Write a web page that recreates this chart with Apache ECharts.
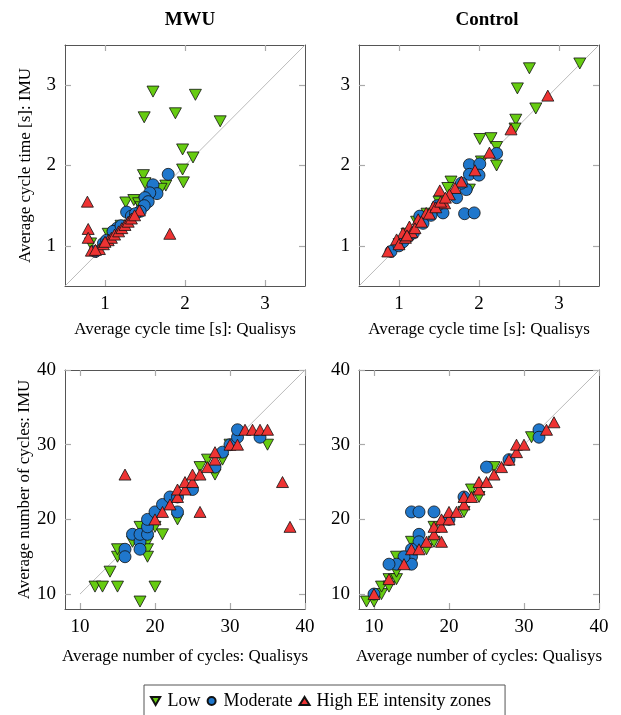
<!DOCTYPE html>
<html>
<head>
<meta charset="utf-8">
<script src="https://cdn.jsdelivr.net/npm/echarts@6/dist/echarts.min.js"></script>
<style>
  html, body { margin: 0; padding: 0; background: #fff; }
  #chart { width: 621px; height: 715px; }
</style>
</head>
<body>
<div id="chart"></div>
<script>
// values: [qualisys, imu]
var mwuTimeLow = [[1.60,2.92],[2.13,2.88],[1.49,2.60],[1.88,2.65],[2.44,2.55],[1.97,2.20],[2.10,2.10],[1.97,1.95],[1.98,1.79],
  [1.48,1.88],[1.50,1.78],[1.76,1.75],[1.70,1.71],[1.26,1.54],[1.36,1.57],[1.42,1.53],[1.04,1.15],[0.82,1.03],[0.89,0.92],
  [1.10,1.12],[1.20,1.25],[1.30,1.35],[1.45,1.48],[1.58,1.62]]
var mwuTimeMod = [[1.79,1.89],[1.60,1.76],[1.65,1.65],[1.56,1.66],[1.50,1.60],[1.54,1.55],[1.49,1.50],[1.44,1.43],[1.27,1.42],
  [1.33,1.37],[1.15,1.22],[1.10,1.18],[0.88,0.93],[0.98,1.03],[1.02,1.07],[1.20,1.25],[1.38,1.40]]
var mwuTimeHigh = [[0.78,1.55],[0.79,1.21],[0.79,1.10],[1.81,1.15],[1.43,1.44],[0.83,0.94],[0.93,0.96],[0.98,1.02],[1.04,1.07],
  [1.08,1.10],[1.12,1.14],[1.17,1.18],[1.21,1.22],[1.25,1.26],[1.29,1.30],[1.33,1.34],[1.37,1.38],[0.88,0.95],[1.00,1.05]]

var ctrlTimeLow = [[3.26,3.27],[2.63,3.21],[2.48,2.96],[2.71,2.71],[2.46,2.57],[2.45,2.46],[2.01,2.33],[2.15,2.34],[2.22,2.23],
  [2.22,2.00],[2.03,2.05],[1.65,1.80],[1.61,1.72],[1.88,1.70],[1.22,1.30],[1.10,1.15],[1.35,1.40],[1.50,1.55],[1.00,1.02]]
var ctrlTimeMod = [[2.22,2.15],[1.88,2.01],[2.01,2.02],[1.88,1.89],[2.00,1.88],[1.84,1.70],[1.72,1.60],[1.55,1.41],[1.82,1.40],
  [1.94,1.41],[0.90,0.93],[1.26,1.37],[1.00,1.00],[1.05,1.05],[1.12,1.12],[1.18,1.16],[1.30,1.28],[1.40,1.38],[1.48,1.50],[1.78,1.78]]
var ctrlTimeHigh = [[2.86,2.87],[2.40,2.45],[2.13,2.16],[1.95,1.94],[1.78,1.80],[1.70,1.72],[1.51,1.69],[1.63,1.64],[1.57,1.53],
  [1.43,1.49],[1.34,1.41],[1.24,1.33],[1.13,1.24],[1.05,1.16],[0.97,1.08],[0.86,0.93],[1.00,1.02],[1.08,1.10],[1.16,1.17],
  [1.20,1.22],[1.28,1.30],[1.38,1.40],[1.46,1.48],[1.52,1.55],[1.58,1.60],[1.10,1.13]]

var mwuCycLow = [[12,11],[13,11],[15,11],[14,13],[18,9],[20,11],[15,15],[15,16],[17,17],[18,19],[19,17],[19,16],[19,15],
  [20,19],[21,18],[23,20],[28,26],[29,28],[27,28],[26,27],[35,30],[30,30]]
var mwuCycMod = [[16,16],[16,15],[17,18],[18,17],[18,16],[18,18],[19,18],[19,19],[19,20],[20,21],[21,22],[22,23],[23,21],
  [25,24],[28,27],[29,29],[30,30],[31,31],[31,32],[34,31],[23,23]]
var mwuCycHigh = [[16,26],[20,20],[21,21],[22,22],[23,23],[23,24],[24,24],[24,25],[25,25],[25,26],[26,21],[26,26],[27,27],
  [28,28],[28,29],[30,30],[31,30],[32,32],[33,32],[34,32],[35,32],[37,25],[38,19]]

var ctrlCycLow = [[10,9],[9,9],[11,10],[11,11],[12,11],[12,12],[13,12],[13,13],[13,15],[15,17],[17,16],[18,17],[18,19],
  [22,21],[24,23],[23,24],[26,27],[31,31]]
var ctrlCycMod = [[32,32],[32,31],[25,27],[15,21],[16,21],[18,21],[16,18],[16,17],[15,16],[15,15],[15,14],[14,15],[13,14],
  [12,14],[10,10],[28,28],[22,23],[20,20]]
var ctrlCycHigh = [[10,10],[12,12],[14,14],[15,16],[16,16],[17,17],[18,18],[18,19],[19,17],[19,19],[19,20],[20,20],[20,21],
  [21,21],[22,22],[22,23],[23,23],[24,24],[24,25],[25,25],[26,26],[27,27],[28,28],[29,29],[29,30],[30,30],[33,32],[34,33]]

var timeTicks = [1, 2, 3]
var cycTicks = [10, 20, 30, 40]
var timeDiag = [[0.5, 0.5], [3.5, 3.5]]
var cycDiag = [[10, 10], [40, 40]]

var FONT = 'Liberation Serif'
var downTri = 'path://M0,0L12,0L6,10.4Z'

var panels = [
  { left: 65, top: 45, h: 241, min: 0.5, max: 3.5, ticks: timeTicks, diag: timeDiag, xName: 'Average cycle time [s]: Qualisys', yName: 'Average cycle time [s]: IMU', gap: 35, d: [mwuTimeLow, mwuTimeMod, mwuTimeHigh] },
  { left: 359, top: 45, h: 241, min: 0.5, max: 3.5, ticks: timeTicks, diag: timeDiag, xName: 'Average cycle time [s]: Qualisys', yName: '', gap: 35, d: [ctrlTimeLow, ctrlTimeMod, ctrlTimeHigh] },
  { left: 65, top: 370, h: 239, min: 8, max: 40, ticks: cycTicks, diag: cycDiag, xName: 'Average number of cycles: Qualisys', yName: 'Average number of cycles: IMU', gap: 39, d: [mwuCycLow, mwuCycMod, mwuCycHigh] },
  { left: 359, top: 370, h: 239, min: 8, max: 40, ticks: cycTicks, diag: cycDiag, xName: 'Average number of cycles: Qualisys', yName: '', gap: 39, d: [ctrlCycLow, ctrlCycMod, ctrlCycHigh] }
]

var grids = [], xAxes = [], yAxes = [], series = []
var names = ['Low', 'Moderate', 'High EE intensity zones']
var colors = ['#66cc11', '#1f77cc', '#ee3333']
var symbols = [downTri, 'circle', 'triangle']
var sizes = [[12, 11], 12, [12, 11]]

function axisBase(p, pos, labels) {
  return {
    type: 'value', position: pos, min: p.min, max: p.max,
    gridIndex: grids.length - 1,
    axisLine: { show: true, onZero: false, lineStyle: { color: '#555', width: 1 } },
    axisTick: { show: true, inside: true, length: 6, customValues: p.ticks, lineStyle: { color: '#aaa', width: 1.2 } },
    axisLabel: { show: labels, customValues: p.ticks, margin: 9, color: '#000', fontFamily: FONT, fontSize: 19 },
    splitLine: { show: false }
  }
}

panels.forEach(function (p, i) {
  grids.push({ left: p.left, top: p.top, width: 240, height: p.h })
  var xb = axisBase(p, 'bottom', true)
  xb.name = p.xName
  xb.nameLocation = 'middle'
  xb.nameGap = p.gap
  xb.nameTextStyle = { fontFamily: FONT, fontSize: 17, color: '#000' }
  xAxes.push(xb, axisBase(p, 'top', false))
  var yl = axisBase(p, 'left', true)
  if (p.yName) {
    yl.name = p.yName
    yl.nameLocation = 'middle'
    yl.nameGap = 31
    yl.nameTextStyle = { fontFamily: FONT, fontSize: 17, color: '#000' }
  }
  yAxes.push(yl, axisBase(p, 'right', false))

  series.push({
    type: 'line', xAxisIndex: 2 * i, yAxisIndex: 2 * i, data: p.diag,
    symbol: 'none', silent: true, lineStyle: { color: '#bbb', width: 1 }, z: 1
  })
  p.d.forEach(function (arr, k) {
    series.push({
      name: names[k], type: 'scatter', xAxisIndex: 2 * i, yAxisIndex: 2 * i,
      data: arr, symbol: symbols[k], symbolSize: sizes[k], z: 2 + k,
      itemStyle: { color: colors[k], borderColor: '#111', borderWidth: 0.8, opacity: 1 }
    })
  })
})

var chart = echarts.init(document.getElementById('chart'))
chart.setOption({
  animation: false,
  title: [
    { text: 'MWU', left: 185, top: 6, textAlign: 'center', textStyle: { fontFamily: FONT, fontSize: 19, fontWeight: 'bold', color: '#000' } },
    { text: 'Control', left: 482, top: 6, textAlign: 'center', textStyle: { fontFamily: FONT, fontSize: 19, fontWeight: 'bold', color: '#000' } }
  ],
  grid: grids,
  xAxis: xAxes,
  yAxis: yAxes,
  legend: {
    left: 144, top: 685, orient: 'horizontal',
    padding: [7, 14, 10, 6], itemGap: 6, itemWidth: 10, itemHeight: 8,
    borderColor: '#555', borderWidth: 1,
    textStyle: { fontFamily: FONT, fontSize: 18, color: '#000', padding: [0, 0, 0, 2] },
    data: [
      { name: 'Low', icon: downTri },
      { name: 'Moderate', icon: 'circle' },
      { name: 'High EE intensity zones', icon: 'triangle' }
    ]
  },
  series: series
})
</script>
</body>
</html>
